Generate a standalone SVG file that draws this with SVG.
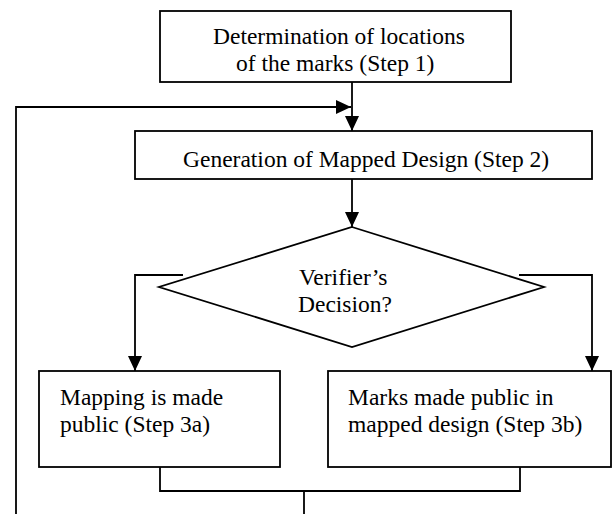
<svg xmlns="http://www.w3.org/2000/svg" width="612" height="514" viewBox="0 0 612 514">
  <style>
    .box { fill: #fff; stroke: #000; stroke-width: 1.8; }
    .ln { fill: none; stroke: #000; stroke-width: 1.8; }
    .t { font-family: "Liberation Serif", "Times New Roman", serif; font-size: 23.5px; fill: #000; }
  </style>
  <defs>
    <marker id="ah" viewBox="0 0 15 14" refX="15" refY="7" markerWidth="15" markerHeight="14" markerUnits="userSpaceOnUse" orient="auto">
      <path d="M0,0 L15,7 L0,14 Z" fill="#000"/>
    </marker>
  </defs>
  <rect width="612" height="514" fill="#fff"/>

  <g id="connectors">
    <line class="ln" x1="352" y1="82" x2="352" y2="131" marker-end="url(#ah)"/>
    <polyline class="ln" points="16,514 16,107 351,107" marker-end="url(#ah)"/>
    <line class="ln" x1="352" y1="179" x2="352" y2="227" marker-end="url(#ah)"/>
    <polyline class="ln" points="183,275 135,275 135,371" marker-end="url(#ah)"/>
    <polyline class="ln" points="519,275 592,275 592,371" marker-end="url(#ah)"/>
    <polyline class="ln" points="160,467 160,491 520,491 520,467"/>
    <line class="ln" x1="304" y1="491" x2="304" y2="514"/>
  </g>

  <g id="step1">
    <rect class="box" x="160" y="11" width="351" height="71"/>
    <text class="t" x="213" y="44">Determination of locations</text>
    <text class="t" x="236" y="71">of the marks (Step 1)</text>
  </g>

  <g id="step2">
    <rect class="box" x="135" y="131" width="457" height="48"/>
    <text class="t" x="183" y="167">Generation of Mapped Design (Step 2)</text>
  </g>

  <g id="decision">
    <polygon class="box" points="352,227 544,287 352,347 159,287"/>
    <text class="t" x="299" y="285">Verifier’s</text>
    <text class="t" x="298" y="312">Decision?</text>
  </g>

  <g id="step3a">
    <rect class="box" x="39" y="371" width="241" height="96"/>
    <text class="t" x="60" y="405">Mapping is made</text>
    <text class="t" x="60" y="432">public (Step 3a)</text>
  </g>

  <g id="step3b">
    <rect class="box" x="328" y="371" width="283" height="96"/>
    <text class="t" x="348" y="405">Marks made public in</text>
    <text class="t" x="348" y="432">mapped design (Step 3b)</text>
  </g>
</svg>
